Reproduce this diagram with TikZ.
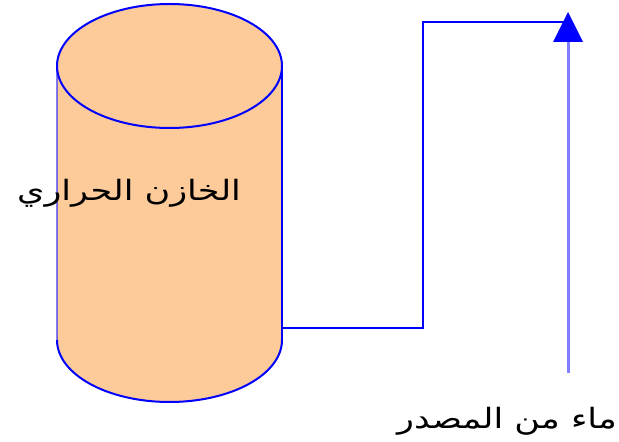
\documentclass[tikz,border=0pt]{standalone}
\usepackage{fontspec}
\newfontfamily\arabicfont[Script=Arabic]{DejaVu Sans}
\TeXXeTstate=1
\definecolor{peach}{RGB}{253,203,154}
\definecolor{lineblue}{RGB}{0,0,255}
\begin{document}
\begin{tikzpicture}[x=1pt,y=1pt,
  outl/.style={draw=lineblue,line width=2pt},
  lbl/.style={font=\arabicfont\fontsize{28}{31}\selectfont,inner sep=0pt,xscale=1.25,transform shape}]
\useasboundingbox (0,0) rectangle (619,442);
% cylinder body
\fill[peach] (57,376) -- (57,102) arc[start angle=180,end angle=360,x radius=112.5,y radius=62] -- (282,376) arc[start angle=0,end angle=180,x radius=112.5,y radius=62] -- cycle;
\draw[outl] (169.5,376) ellipse[x radius=112.5,y radius=62];
\draw[outl] (282,376) -- (282,102);
\draw[outl,draw opacity=0.5] (57,376) -- (57,102);
\draw[outl] (57,102) arc[start angle=180,end angle=360,x radius=112.5,y radius=62];
\node[lbl] (tank) at (129,249) {\beginR الخازن الحراري\endR};
% pipe
\coordinate (out) at (282,114);
\coordinate (c1) at (423,114);
\coordinate (c2) at (423,419.5);
\coordinate (end) at (568,419.5);
\draw[outl] (out) -- (c1) -- (c2) -- (end);
% source arrow
\coordinate (src) at (568,69);
\coordinate (base) at (568,400);
\draw[draw=lineblue,draw opacity=0.5,line width=3pt] (src) -- (base);
\fill[lineblue] (553,400) -- (583,400) -- (568,430) -- cycle;
\node[lbl] (source) at (507,21) {\beginR ماء من المصدر\endR};
\end{tikzpicture}
\end{document}
